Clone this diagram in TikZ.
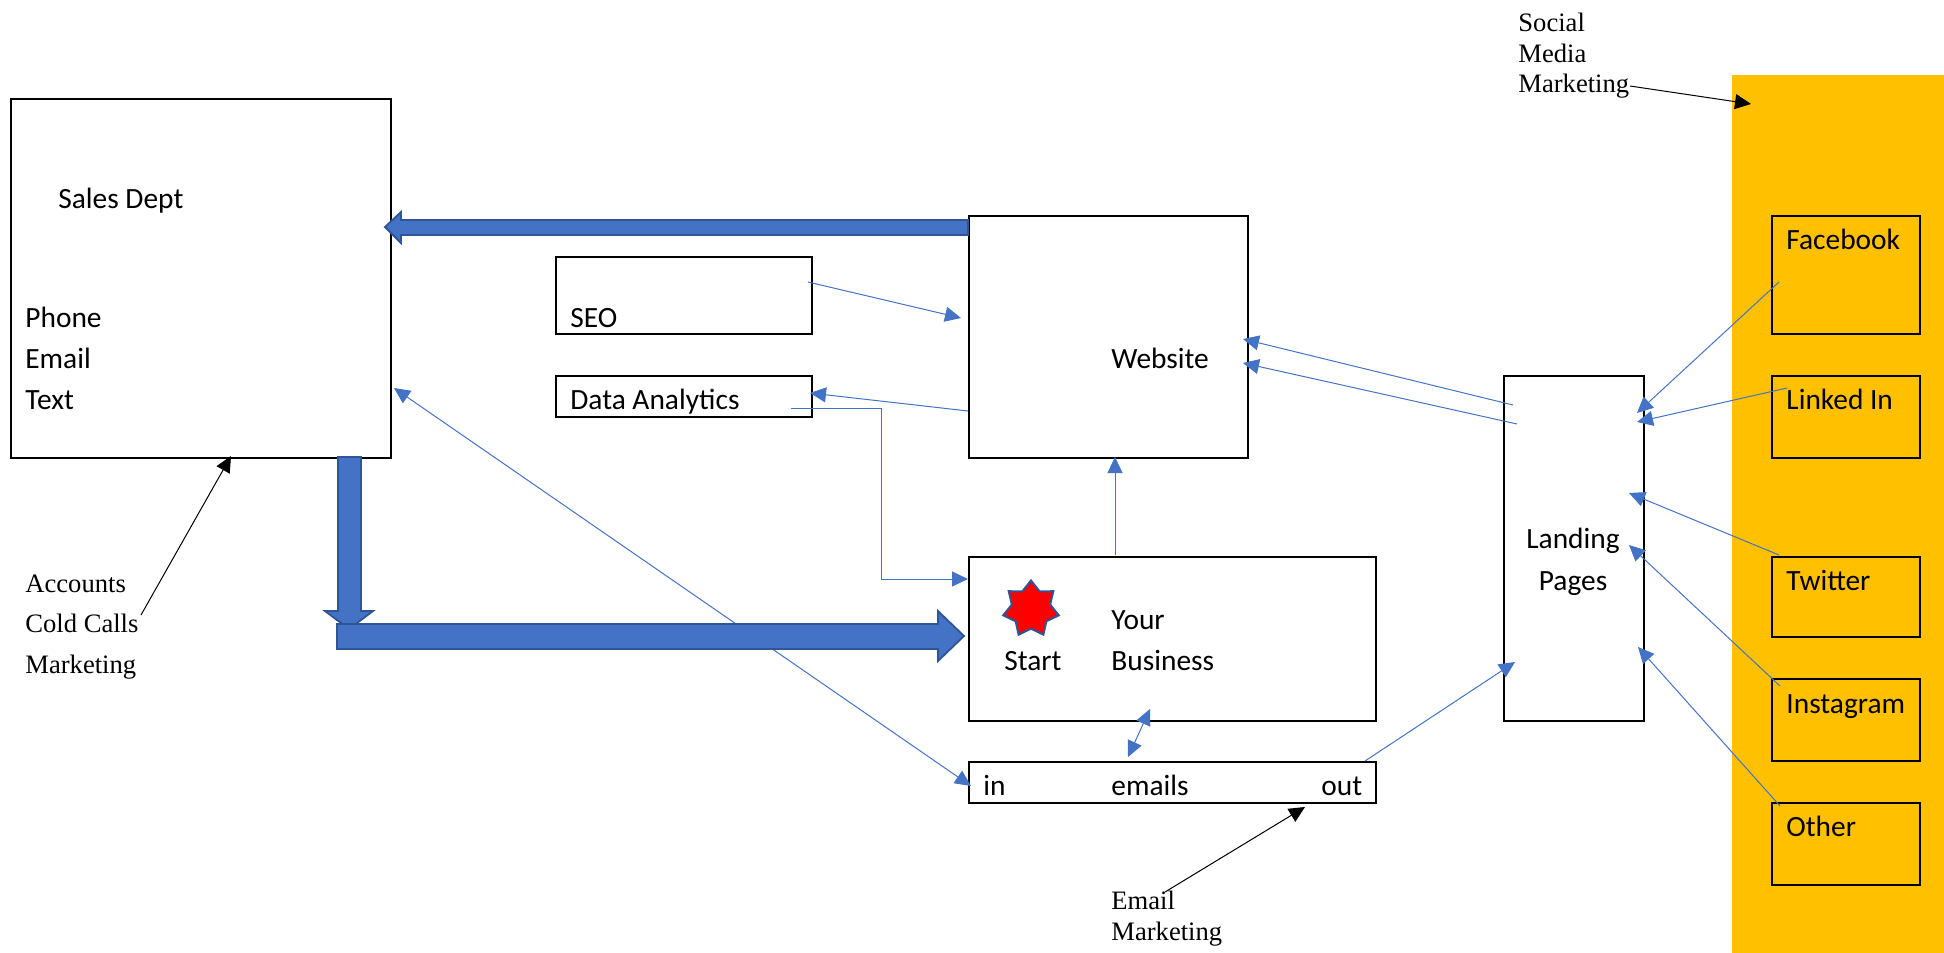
\documentclass[tikz,border=0pt]{standalone}
\usepackage{fontspec}
\setmainfont{Carlito}
\newfontfamily\timesface{Liberation Serif}
\usetikzlibrary{arrows.meta,shapes.geometric,fit}
\definecolor{linkblue}{HTML}{4472C4}
\definecolor{fatedge}{HTML}{2F5597}
\definecolor{panel}{HTML}{FFC000}
\tikzset{
  x=0.5pt,y=-0.5pt,
  box/.style={draw=black,line width=0.7pt,inner sep=0pt,outer sep=0pt},
  lbl/.style={anchor=base west,inner sep=0pt,font=\fontsize{14.7}{17}\selectfont,text=black},
  clbl/.style={lbl,anchor=base},
  serif/.style={anchor=base west,inner sep=0pt,font=\timesface\fontsize{13.3}{16}\selectfont,text=black},
  link/.style={draw=linkblue,line width=0.5pt,-{Triangle[length=8pt,width=7.5pt,fill=linkblue]}},
  linkboth/.style={draw=linkblue,line width=0.5pt,{Triangle[length=8pt,width=7.5pt,fill=linkblue]}-{Triangle[length=8pt,width=7.5pt,fill=linkblue]}},
  note/.style={draw=black,line width=0.5pt,-{Triangle[length=8pt,width=7.5pt,fill=black]}},
  fat/.style={fill=linkblue,draw=fatedge,line width=0.9pt,line join=miter},
}
\begin{document}
\begin{tikzpicture}
\useasboundingbox (0,0) rectangle (1944,953);
% panel
\fill[panel] (1732,75) rectangle (1944,953);
% boxes
\node[box,fit={(11,99)(391,458)}] (sales) {};
\node[box,fit={(969,216)(1248,458)}] (website) {};
\node[box,fit={(556,257)(812,334)}] (seo) {};
\node[box,fit={(556,376)(812,417)}] (data) {};
\node[box,fit={(969,557)(1376,721)}] (business) {};
\node[box,fit={(969,762)(1376,803)}] (emails) {};
\node[box,fit={(1504,376)(1644,721)}] (landing) {};
\node[box,fit={(1772,216)(1920,334)}] (facebook) {};
\node[box,fit={(1772,376)(1920,458)}] (linkedin) {};
\node[box,fit={(1772,557)(1920,637)}] (twitter) {};
\node[box,fit={(1772,679)(1920,761)}] (instagram) {};
\node[box,fit={(1772,803)(1920,885)}] (other) {};
% star
\node[star,star points=7,star point ratio=1.45,draw=fatedge,fill=red,line width=1pt,minimum size=28.5pt,inner sep=0pt] (burst) at (1031,609) {};
% labels
\node[lbl] (t1) at (58,208) {Sales Dept};
\node[lbl] (t2) at (25,327) {Phone};
\node[lbl] (t3) at (25,368) {Email};
\node[lbl] (t4) at (25,409) {Text};
\node[lbl] (t5) at (570,327) {SEO};
\node[lbl] (t6) at (570,409) {Data Analytics};
\node[lbl] (t7) at (1111,368) {Website};
\node[lbl] (t8) at (1004,670) {Start};
\node[lbl] (t9) at (1111,629) {Your};
\node[lbl] (t10) at (1111,670) {Business};
\node[lbl] (t11) at (983,795) {in};
\node[lbl] (t12) at (1111,795) {emails};
\node[lbl] (t13) at (1321,795) {out};
\node[clbl] (t14) at (1573,548) {Landing};
\node[clbl] (t15) at (1573,590) {Pages};
\node[lbl] (t16) at (1786,249) {Facebook};
\node[lbl] (t17) at (1786,409) {Linked In};
\node[lbl] (t18) at (1786,590) {Twitter};
\node[lbl] (t19) at (1786,713) {Instagram};
\node[lbl] (t20) at (1786,836) {Other};
\node[serif] (s1) at (25,592) {Accounts};
\node[serif] (s2) at (25,632) {Cold Calls};
\node[serif] (s3) at (25,673) {Marketing};
\node[serif] (s4) at (1111,909) {Email};
\node[serif] (s5) at (1111,940) {Marketing};
\node[serif] (s6) at (1518,32) {Social};
\node[serif] (s7) at (1518,62) {Media};
\node[serif] (s8) at (1518,92) {Marketing};
% connector ends
\coordinate (seoOut) at (808,282);
\coordinate (webIn) at (961,318);
\coordinate (webOut) at (968,411);
\coordinate (dataIn) at (810,393);
\coordinate (dataOut) at (791,408);
\coordinate (bend1) at (881,408);
\coordinate (bend2) at (881,579);
\coordinate (busIn) at (968,579);
\coordinate (busUp) at (1115,555);
\coordinate (webDown) at (1115,457);
\coordinate (landA) at (1513,405);
\coordinate (webA) at (1243,339);
\coordinate (landB) at (1517,424);
\coordinate (webB) at (1243,363);
\coordinate (fbOut) at (1779,282);
\coordinate (landC) at (1637,413);
\coordinate (liOut) at (1787,388);
\coordinate (landD) at (1637,422);
\coordinate (twOut) at (1779,555);
\coordinate (landE) at (1629,493);
\coordinate (igOut) at (1780,686);
\coordinate (landF) at (1629,545);
\coordinate (otOut) at (1780,806);
\coordinate (landG) at (1638,647);
\coordinate (mailOut) at (1365,761);
\coordinate (landH) at (1515,662);
\coordinate (salesPort) at (394,388);
\coordinate (mailIn) at (971,786);
\coordinate (busBelow) at (1150,709);
\coordinate (mailTop) at (1128,757);
\coordinate (noteA) at (141,615);
\coordinate (salesBelow) at (231,456);
\coordinate (noteB) at (1630,86);
\coordinate (panelIn) at (1751,104);
\coordinate (noteC) at (1165,892);
\coordinate (mailBelow) at (1305,807);
\coordinate (tipA) at (385,227);
\coordinate (tipB) at (349,629);
\coordinate (tipC) at (964,636);
% thin connectors
\draw[link] (seoOut) -- (webIn);
\draw[link] (webOut) -- (dataIn);
\draw[link] (dataOut) -- (bend1) -- (bend2) -- (busIn);
\draw[link] (busUp) -- (webDown);
\draw[link] (landA) -- (webA);
\draw[link] (landB) -- (webB);
\draw[link] (fbOut) -- (landC);
\draw[link] (liOut) -- (landD);
\draw[link] (twOut) -- (landE);
\draw[link] (igOut) -- (landF);
\draw[link] (otOut) -- (landG);
\draw[link] (mailOut) -- (landH);
\draw[linkboth] (salesPort) -- (mailIn);
\draw[linkboth] (busBelow) -- (mailTop);
% black notes
\draw[note] (noteA) -- (salesBelow);
\draw[note] (noteB) -- (panelIn);
\draw[note] (noteC) -- (mailBelow);
% fat arrows
\filldraw[fat] (tipA) -- ++(16,-15) -- ++(0,8) -- ++(567,0) -- ++(0,15) -- ++(-567,0) -- ++(0,8) -- cycle;
\filldraw[fat] (tipB) -- ++(-24,-18) -- ++(13,0) -- ++(0,-154) -- ++(23,0) -- ++(0,154) -- ++(12,0) -- cycle;
\filldraw[fat] (tipC) -- ++(-26,-25) -- ++(0,13) -- ++(-601,0) -- ++(0,25) -- ++(601,0) -- ++(0,12) -- cycle;
\end{tikzpicture}
\end{document}
